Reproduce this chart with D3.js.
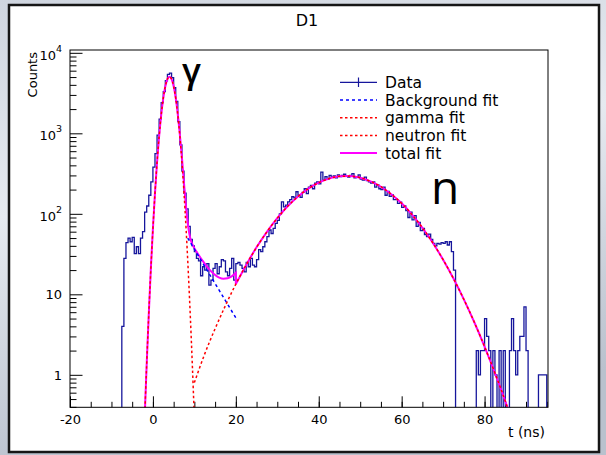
<!DOCTYPE html>
<html>
<head>
<meta charset="utf-8">
<script src="https://cdn.jsdelivr.net/npm/d3@7"></script>
<style>
  body { margin: 0; background: #fff; }
  svg { display: block; }
  text { font-family: "DejaVu Sans", sans-serif; fill: #000; }
</style>
</head>
<body>
<svg id="chart" width="606" height="455"></svg>
<script>
// histogram: counts per 0.5 ns bin, first bin starts at -7.5 ns
const binWidth = 0.5;
const firstBin = -7.5;
const counts = [
  4, 28, 44, 50, 45, 51, 32, 39, 32, 50,
  60, 105, 125, 170, 250, 380, 560, 950, 1500, 2400, 3300, 4500, 5400, 5600,
  4900, 3700, 2500, 1400, 720, 340, 180, 115, 70, 48,
  40, 34, 28, 26, 17, 22, 20, 24, 13, 15, 21, 24, 18, 22, 27, 26, 19, 17, 21, 28,
  15, 24, 25, 23, 21, 19, 25, 22, 28, 23, 22, 27, 36, 34, 39, 45, 52, 63, 57, 66,
  76, 83, 100, 141, 122, 128, 141, 150, 163, 158, 188,
  170, 160, 185, 205, 178, 215, 225, 205, 240, 250, 236, 330, 262, 290, 270, 300,
  285, 296, 280, 305, 290, 300, 310, 292, 285, 300, 315, 280, 290, 305, 270, 262,
  285, 258, 250, 240, 250, 215, 228, 205, 200, 215, 170, 190, 165, 172, 150, 150,
  135, 140, 120, 125, 110, 90, 105, 84, 95, 70, 78, 62, 66, 55, 52, 56,
  48, 43, 40, 43, 42, 44, 43, 45, 41, 45, 34, 20,
  0, 0, 0, 0, 0, 0, 0, 0, 0, 0,
  2, 1, 2, 2, 5, 3, 2, 0, 2, 1, 0, 2, 0, 2, 0, 0, 2, 5, 2, 1,
  2, 3, 3, 7, 2, 0, 0, 0, 0, 0, 1, 1, 1, 1
];

// fit curves: [t (ns), counts]
const backgroundFit = [[8.4, 50], [12, 24.5], [16, 11.2], [20.1, 5.0]];
const gammaFit = [
  [-2, 0.285], [-1.5, 1.36], [-1, 5.66], [-0.5, 20.6], [0, 65.3], [0.5, 181],
  [1, 438], [1.5, 924], [2, 1700], [2.5, 2740], [3, 3850], [3.5, 4720], [4, 5050],
  [4.5, 4720], [5, 3850], [5.5, 2740], [6, 1700], [6.5, 924], [7, 438], [7.5, 181],
  [8, 65.3], [8.5, 20.6], [9, 5.66], [9.5, 1.36], [10, 0.285]
];
const neutronFit = [
  [10, 0.8], [12.5, 1.82], [15, 3.74], [17.5, 7.26], [20, 13.4], [22.5, 23.2],
  [25, 38.4], [27.5, 59.8], [30, 88.3], [32.5, 124], [35, 164], [37.5, 206],
  [40, 244], [42.5, 274], [45, 292], [47.5, 294], [50, 281], [52.5, 253],
  [55, 217], [57.5, 175], [60, 135], [62.5, 97.7], [65, 67.1], [67.5, 43.7],
  [70, 26.9], [72.5, 15.7], [75, 8.65], [77.5, 4.53], [80, 2.24], [82.5, 1.05],
  [85, 0.47], [86, 0.33]
];
const totalFitLow = [
  [-2, 0.285], [-1.5, 1.36], [-1, 5.66], [-0.5, 20.6], [0, 65.3], [0.5, 181],
  [1, 438], [1.5, 924], [2, 1700], [2.5, 2740], [3, 3850], [3.5, 4720], [4, 5050],
  [4.5, 4720], [5, 3850], [5.5, 2750], [6, 1720], [6.5, 960], [7, 500], [7.5, 240],
  [8, 120], [8.5, 70], [9, 50], [9.5, 42], [10, 37.5], [11, 31], [12, 26],
  [13, 22.3], [14, 19.4], [15, 17.4], [16, 16.1], [17, 15.6], [18, 15.8],
  [19, 16.7], [20, 18.5]
];
const totalFitHigh = [
  [20, 13.4], [22.5, 23.2], [25, 38.4], [27.5, 59.8], [30, 88.3], [32.5, 124],
  [35, 164], [37.5, 206], [40, 244], [42.5, 274], [45, 292], [47.5, 294],
  [50, 281], [52.5, 253], [55, 217], [57.5, 175], [60, 135], [62.5, 97.7],
  [65, 67.1], [67.5, 43.7], [70, 26.9], [72.5, 15.7], [75, 8.65], [77.5, 4.53],
  [80, 2.24], [82.5, 1.05], [85, 0.47], [86, 0.33]
];

const xTicks = [-20, 0, 20, 40, 60, 80];
const xMinorTicks = d3.range(-20, 96, 5);
const yTicks = [1, 10, 100, 1000, 10000];
const yTickLabels = [["1", ""], ["10", ""], ["10", "2"], ["10", "3"], ["10", "4"]];
const legendLabels = ["Data", "Background fit", "gamma fit", "neutron fit", "total fit"];

const plotLeft = 70, plotRight = 548, plotTop = 50, plotBottom = 407.3;

const svg = d3.select("#chart");
const defs = svg.append("defs");

// backdrop of the screenshot
const grad = defs.append("linearGradient").attr("id", "backdrop")
  .attr("x1", 0).attr("y1", 0).attr("x2", 0.25).attr("y2", 1);
grad.append("stop").attr("offset", "0%").attr("stop-color", "#cfd5df");
grad.append("stop").attr("offset", "45%").attr("stop-color", "#e6eaf0");
grad.append("stop").attr("offset", "100%").attr("stop-color", "#b9c1cd");
svg.append("rect").attr("width", 606).attr("height", 455).attr("fill", "url(#backdrop)");
svg.append("rect")
  .attr("x", 9).attr("y", 5).attr("width", 590).attr("height", 447)
  .attr("fill", "#fff").attr("stroke", "#161616").attr("stroke-width", 2.5);

defs.append("clipPath").attr("id", "plotClip")
  .append("rect").attr("x", plotLeft).attr("y", plotTop)
  .attr("width", plotRight - plotLeft).attr("height", plotBottom - plotTop);

const x = d3.scaleLinear().domain([-20, 95.3]).range([plotLeft, plotRight]);
const y = d3.scaleLog().domain([0.395, 10840]).range([plotBottom, plotTop]);
const yOf = v => v > 0 ? y(v) : plotBottom + 2;

// axes, ticks pointing inwards like ROOT
svg.append("g")
  .attr("transform", `translate(0,${plotBottom})`)
  .call(d3.axisBottom(x).tickValues(xMinorTicks).tickSizeInner(-5.5).tickSizeOuter(0).tickFormat(""))
  .call(g => g.select(".domain").remove());
svg.append("g")
  .attr("class", "xaxis")
  .attr("transform", `translate(0,${plotBottom})`)
  .call(d3.axisBottom(x).tickValues(xTicks).tickSizeInner(-11).tickSizeOuter(0).tickPadding(7)
    .tickFormat(d => String(d)))
  .call(g => g.select(".domain").remove());
svg.select(".xaxis").selectAll("text")
  .style("font-family", "DejaVu Sans").style("font-size", "13px").attr("fill", "#000");

const yMinor = [];
[0.1, 1, 10, 100, 1000].forEach(d => { for (let k = 2; k <= 9; k++) yMinor.push(d * k); });
svg.append("g")
  .attr("transform", `translate(${plotLeft},0)`)
  .call(d3.axisLeft(y).tickValues(yMinor.filter(v => v >= 0.395 && v <= 10840)).tickSizeInner(-6.5).tickSizeOuter(0).tickFormat(""))
  .call(g => g.select(".domain").remove());
svg.append("g")
  .attr("transform", `translate(${plotLeft},0)`)
  .call(d3.axisLeft(y).tickValues(yTicks).tickSizeInner(-12.5).tickSizeOuter(0).tickFormat(""))
  .call(g => g.select(".domain").remove());
svg.selectAll(".tick line").attr("stroke", "#000");

yTicks.forEach((v, i) => {
  const [base, exp] = yTickLabels[i];
  const t = svg.append("text")
    .attr("x", 62)
    .attr("y", y(v) + (exp ? 6.7 : 4.7))
    .attr("text-anchor", "end")
    .style("font-size", "13px")
    .text(base);
  if (exp) t.append("tspan").attr("dy", -8).style("font-size", "9.5px").text(exp);
});

const plot = svg.append("g").attr("clip-path", "url(#plotClip)");

// data histogram as a step line
const steps = [[x(firstBin), plotBottom + 2]];
counts.forEach((c, i) => {
  const t0 = firstBin + i * binWidth;
  steps.push([x(t0), yOf(c)]);
  steps.push([x(t0 + binWidth), yOf(c)]);
});
steps.push([x(firstBin + counts.length * binWidth), plotBottom + 2]);

plot.append("path")
  .attr("d", d3.line()(steps))
  .attr("fill", "none").attr("stroke", "#16169c").attr("stroke-width", 1.3);

const fitLine = d3.line().x(d => x(d[0])).y(d => y(d[1])).curve(d3.curveMonotoneX);

plot.append("path")
  .attr("d", fitLine(totalFitLow) + "L" + fitLine(totalFitHigh).slice(1))
  .attr("fill", "none").attr("stroke", "#ff00ff").attr("stroke-width", 2);

plot.append("path")
  .attr("d", d3.line().x(d => x(d[0])).y(d => y(d[1]))(backgroundFit))
  .attr("fill", "none").attr("stroke", "#0000ff").attr("stroke-width", 1.5).attr("stroke-dasharray", "3,3");

plot.append("path")
  .attr("d", fitLine(gammaFit))
  .attr("fill", "none").attr("stroke", "#ff0000").attr("stroke-width", 1.5).attr("stroke-dasharray", "2.5,2.5");

plot.append("path")
  .attr("d", fitLine(neutronFit))
  .attr("fill", "none").attr("stroke", "#ff0000").attr("stroke-width", 1.5).attr("stroke-dasharray", "2.5,2.5");

// frame
svg.append("rect")
  .attr("x", plotLeft).attr("y", plotTop)
  .attr("width", plotRight - plotLeft).attr("height", plotBottom - plotTop)
  .attr("fill", "none").attr("stroke", "#000").attr("stroke-width", 1);

// legend
const legendStyles = [
  { stroke: "#16169c", dash: null, width: 1.2 },
  { stroke: "#0000ff", dash: "3,3", width: 1.5 },
  { stroke: "#ff0000", dash: "2.5,2.5", width: 1.5 },
  { stroke: "#ff0000", dash: "2.5,2.5", width: 1.5 },
  { stroke: "#ff00ff", dash: null, width: 2 }
];
legendLabels.forEach((label, i) => {
  const base = 88 + i * 17.7;
  const s = legendStyles[i];
  svg.append("line")
    .attr("x1", 340).attr("x2", 377).attr("y1", base - 5.7).attr("y2", base - 5.7)
    .attr("stroke", s.stroke).attr("stroke-width", s.width)
    .attr("stroke-dasharray", s.dash);
  if (i === 0) {
    svg.append("line")
      .attr("x1", 358.5).attr("x2", 358.5).attr("y1", base - 10.5).attr("y2", base - 1)
      .attr("stroke", s.stroke).attr("stroke-width", 1.2);
  }
  svg.append("text")
    .attr("x", 385).attr("y", base)
    .style("font-size", "15.5px")
    .text(label);
});

// titles
svg.append("text")
  .attr("x", 307).attr("y", 26)
  .attr("text-anchor", "middle")
  .style("font-size", "16px")
  .text("D1");

svg.append("text")
  .attr("transform", "translate(36.5,52) rotate(-90)")
  .attr("text-anchor", "end")
  .style("font-size", "13px")
  .text("Counts");

svg.append("text")
  .attr("x", 545).attr("y", 437)
  .attr("text-anchor", "end")
  .style("font-size", "14px")
  .text("t (ns)");

// hand-written annotations
svg.append("text")
  .attr("x", 182).attr("y", 83)
  .style("font-family", "Open Sans").style("font-size", "35px").style("font-weight", 600)
  .text("γ");

svg.append("text")
  .attr("x", 431).attr("y", 204)
  .style("font-family", "Open Sans").style("font-size", "46px")
  .text("n");
</script>
</body>
</html>
